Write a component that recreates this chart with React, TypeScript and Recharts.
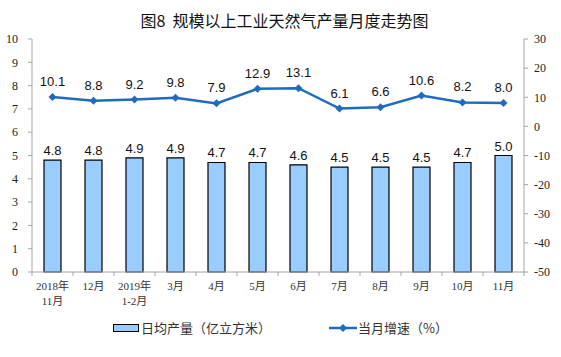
import { ComposedChart, Bar, Line, XAxis, YAxis, LabelList } from "recharts";

const months = [
  "2018年\n11月", "12月", "2019年\n1-2月", "3月", "4月", "5月",
  "6月", "7月", "8月", "9月", "10月", "11月",
];
const dailyOutput = [4.8, 4.8, 4.9, 4.9, 4.7, 4.7, 4.6, 4.5, 4.5, 4.5, 4.7, 5.0];
const growthRate = [10.1, 8.8, 9.2, 9.8, 7.9, 12.9, 13.1, 6.1, 6.6, 10.6, 8.2, 8.0];
const leftTicks = [0, 1, 2, 3, 4, 5, 6, 7, 8, 9, 10];
const rightTicks = [-50, -40, -30, -20, -10, 0, 10, 20, 30];

const data = months.map((m, i) => ({ month: m, output: dailyOutput[i], growth: growthRate[i] }));

const W = 561;
const H = 357;
const LEFT_W = 32;
const RIGHT_W = 37;
const HALF_BAND = (W - LEFT_W - RIGHT_W) / months.length / 2;

const axisColor = "#a6a6a6";
const lineColor = "#1f6bc2";
const serif = "'Liberation Serif', 'Noto Sans CJK SC', serif";
const sans = "'Liberation Sans', Arial, sans-serif";
const cjk = "'Noto Sans CJK SC', sans-serif";

const MonthTick = ({ x, y, payload, index }: any) => {
  const lines = String(payload.value).split("\n");
  return (
    <g>
      <line x1={x - HALF_BAND} x2={x - HALF_BAND} y1={y} y2={y + 4} stroke={axisColor} />
      {index === months.length - 1 && (
        <line x1={x + HALF_BAND} x2={x + HALF_BAND} y1={y} y2={y + 4} stroke={axisColor} />
      )}
      {lines.map((l, i) => (
        <text key={i} x={x} y={y + 18 + i * 15} textAnchor="middle" fontSize={11} fill="#333" fontFamily={serif}>
          {l}
        </text>
      ))}
    </g>
  );
};

const Diamond = ({ cx, cy }: any) => (
  <path d={`M${cx},${cy - 4}L${cx + 4},${cy}L${cx},${cy + 4}L${cx - 4},${cy}Z`} fill={lineColor} />
);

export default function App() {
  return (
    <div style={{ position: "absolute", left: 0, top: 0, width: W, height: H, background: "#fff" }}>
      <div
        style={{
          position: "absolute", top: 8, left: 4, width: W, textAlign: "center",
          fontFamily: cjk, fontSize: 16, color: "#111",
        }}
      >
        图8&nbsp;&nbsp;规模以上工业天然气产量月度走势图
      </div>
      <ComposedChart width={W} height={H} data={data} margin={{ top: 39, right: 0, bottom: 55, left: 0 }}>
        <XAxis
          dataKey="month"
          xAxisId="m"
          interval={0}
          height={30}
          tickSize={0}
          tickMargin={0}
          tickLine={false}
          axisLine={{ stroke: axisColor }}
          tick={<MonthTick />}
        />
        <YAxis
          yAxisId="l"
          orientation="left"
          width={LEFT_W}
          domain={[0, 10]}
          ticks={leftTicks}
          interval={0}
          tickSize={4}
          tickMargin={10}
          axisLine={{ stroke: axisColor }}
          tickLine={{ stroke: axisColor }}
          tick={{ fontSize: 12, fill: "#222", fontFamily: serif }}
        />
        <YAxis
          yAxisId="r"
          orientation="right"
          width={RIGHT_W}
          domain={[-50, 30]}
          ticks={rightTicks}
          interval={0}
          tickSize={4}
          tickMargin={6}
          axisLine={{ stroke: axisColor }}
          tickLine={{ stroke: axisColor }}
          tick={{ fontSize: 12, fill: "#222", fontFamily: serif }}
        />
        <Bar
          xAxisId="m"
          yAxisId="l"
          dataKey="output"
          barSize={17}
          fill="#99ccff"
          stroke="#000"
          strokeWidth={1.2}
          isAnimationActive={false}
        >
          <LabelList dataKey="output" position="top" offset={5} fontSize={13} fill="#111" fontFamily={sans}
            formatter={(v: any) => Number(v).toFixed(1)} />
        </Bar>
        <Line
          xAxisId="m"
          yAxisId="r"
          dataKey="growth"
          stroke={lineColor}
          strokeWidth={2.5}
          dot={<Diamond />}
          activeDot={false}
          isAnimationActive={false}
        >
          <LabelList dataKey="growth" position="top" offset={11} fontSize={13} fill="#111" fontFamily={sans}
            formatter={(v: any) => Number(v).toFixed(1)} />
        </Line>
      </ComposedChart>
      <div
        style={{
          position: "absolute", top: 318, left: 0, width: W, height: 20,
          fontFamily: cjk, fontSize: 13, color: "#333",
        }}
      >
        <div style={{ position: "absolute", left: 113, top: 6, width: 24, height: 6, background: "#99ccff", border: "1.5px solid #000" }} />
        <span style={{ position: "absolute", left: 141, top: 0 }}>日均产量（亿立方米）</span>
        <svg style={{ position: "absolute", left: 329, top: 4 }} width={28} height={12}>
          <line x1={0} x2={28} y1={6} y2={6} stroke={lineColor} strokeWidth={2.5} />
          <path d="M14,2L18,6L14,10L10,6Z" fill={lineColor} />
        </svg>
        <span style={{ position: "absolute", left: 358, top: 0 }}>当月增速（%）</span>
      </div>
    </div>
  );
}
